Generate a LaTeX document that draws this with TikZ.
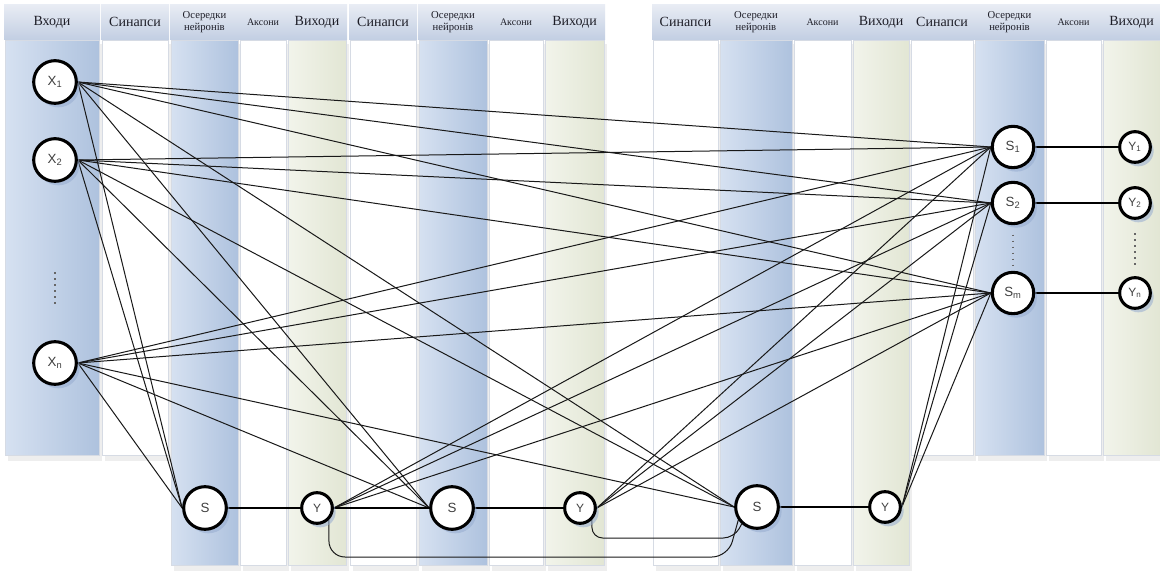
\documentclass[tikz,border=0pt]{standalone}
\usepackage{fontspec}
\setmainfont{Liberation Serif}
\newfontfamily\nodefont{Liberation Sans}
\usetikzlibrary{shadows}
\pgfdeclarelayer{bg}
\pgfdeclarelayer{lines}
\pgfsetlayers{bg,lines,main}
\definecolor{hdrtop}{RGB}{232,236,244}
\definecolor{hdrbot}{RGB}{194,206,226}
\definecolor{blueL}{RGB}{214,225,241}
\definecolor{blueR}{RGB}{174,194,222}
\definecolor{greenL}{RGB}{242,244,235}
\definecolor{greenR}{RGB}{226,230,212}
\definecolor{edgec}{RGB}{214,219,228}
\definecolor{shadowc}{RGB}{150,172,208}
\definecolor{hdrtext}{RGB}{30,30,40}
\newcommand\mycol[7]{%
  \fill[gray!13] (#1+3,44) rectangle (#2+3,#4+6);
  \path[#3] (#1,40) rectangle (#2,#4);
  \draw[edgec, line width=0.6pt] (#1,40) rectangle (#2,#4);
  \path[hdr] (#1-1,5) rectangle (#2+1,40);
  \node[#7] (#5) at ({(#1+#2)/2},22) {#6};
}
\begin{document}
\begin{tikzpicture}[x=0.75pt, y=-0.75pt,
  hdr/.style={top color=hdrtop, bottom color=hdrbot},
  cblue/.style={left color=blueL, right color=blueR},
  cgreen/.style={left color=greenL, right color=greenR},
  cwhite/.style={fill=white},
  hbig/.style={font=\fontsize{10.5}{12}\selectfont, text=hdrtext, inner sep=0pt},
  hmid/.style={font=\fontsize{8}{9}\selectfont, align=center, text=hdrtext, inner sep=0pt},
  hsm/.style={font=\fontsize{7.5}{8.5}\selectfont, text=hdrtext, inner sep=0pt},
  neuron/.style={circle, draw=black, line width=2.3pt, fill=white, inner sep=0pt,
     font=\nodefont\fontsize{10}{11}\selectfont, text=black!75,
     drop shadow={shadow xshift=2.5pt, shadow yshift=-3pt, fill=shadowc, opacity=0.55}},
  bigN/.style={neuron, minimum size=32pt},
  smallN/.style={neuron, minimum size=23pt, font=\nodefont\fontsize{9}{10}\selectfont},
  conn/.style={line width=0.75pt, black!90},
  axon/.style={line width=0.9pt, black},
  dotsline/.style={line width=1pt, black!60, dash pattern=on 1pt off 3.5pt}
]
\useasboundingbox (0,0) rectangle (1160,573);
\begin{pgfonlayer}{bg}
\fill[white] (0,0) rectangle (1160,573);
\mycol{5}{99}{cblue}{455}{h1}{Входи}{hbig}
\mycol{102}{168}{cwhite}{455}{h2}{Синапси}{hbig}
\mycol{171}{238}{cblue}{565}{h3}{Осередки\\нейронів}{hmid}
\mycol{240}{286}{cwhite}{565}{h4}{Аксони}{hsm}
\mycol{288}{346}{cgreen}{565}{h5}{Виходи}{hbig}
\mycol{350}{416}{cwhite}{565}{h6}{Синапси}{hbig}
\mycol{419}{487}{cblue}{565}{h7}{Осередки\\нейронів}{hmid}
\mycol{489}{543}{cwhite}{565}{h8}{Аксони}{hsm}
\mycol{545}{604}{cgreen}{565}{h9}{Виходи}{hbig}
\mycol{653}{718}{cwhite}{565}{h10}{Синапси}{hbig}
\mycol{720}{792}{cblue}{565}{h11}{Осередки\\нейронів}{hmid}
\mycol{794}{851}{cwhite}{565}{h12}{Аксони}{hsm}
\mycol{853}{909}{cgreen}{565}{h13}{Виходи}{hbig}
\mycol{911}{973}{cwhite}{455}{h14}{Синапси}{hbig}
\mycol{975}{1044}{cblue}{455}{h15}{Осередки\\нейронів}{hmid}
\mycol{1046}{1101}{cwhite}{455}{h16}{Аксони}{hsm}
\mycol{1103}{1160}{cgreen}{455}{h17}{Виходи}{hbig}
\end{pgfonlayer}

% neurons
\node[bigN] (X1) at (55,82) {X\textsubscript{1}};
\node[bigN] (X2) at (55,160) {X\textsubscript{2}};
\node[bigN] (Xn) at (55,363) {X\textsubscript{n}};
\node[bigN] (Sb1) at (205,508) {S};
\node[smallN] (Yb1) at (317,508) {Y};
\node[bigN] (Sb2) at (452,508) {S};
\node[smallN] (Yb2) at (580,508) {Y};
\node[bigN] (Sb3) at (757,507) {S};
\node[smallN] (Yb3) at (885,507) {Y};
\node[bigN, minimum size=31pt] (S1r) at (1013,147) {S\textsubscript{1}};
\node[bigN, minimum size=31pt] (S2r) at (1013,203) {S\textsubscript{2}};
\node[bigN, minimum size=31pt] (Smr) at (1013,293) {S\textsubscript{m}};
\node[smallN] (Y1r) at (1135,147) {Y\textsubscript{1}};
\node[smallN] (Y2r) at (1135,203) {Y\textsubscript{2}};
\node[smallN] (Ynr) at (1135,293) {Y\textsubscript{n}};

\begin{pgfonlayer}{lines}
\foreach \a in {X1,X2,Xn}{
  \foreach \b in {S1r,S2r,Smr,Sb1,Sb2,Sb3}{
    \draw[conn] (\a.east) -- (\b.west);
  }
}
\foreach \a in {Yb1,Yb2,Yb3}{
  \foreach \b in {S1r,S2r,Smr}{
    \draw[conn] (\a.east) -- (\b.west);
  }
}
\draw[axon] (Sb1) -- (Yb1);
\draw[axon] (Yb1) -- (Sb2);
\draw[axon, line width=1.9pt] (Sb2) -- (Yb2);
\draw[axon] (Sb3) -- (Yb3);
\draw[axon] (S1r) -- (Y1r);
\draw[axon] (S2r) -- (Y2r);
\draw[axon] (Smr) -- (Ynr);
\draw[conn, rounded corners=12pt] (Yb1.-45) |- (728,557) -- (Sb3.215);
\draw[conn, rounded corners=8pt] (Yb2.-45) |- (734,538) -- (Sb3.228);
\draw[dotsline, shorten <=67pt, shorten >=27pt] (X2.south) -- (Xn.north);
\draw[dotsline, shorten <=7pt, shorten >=3pt] (S2r.south) -- (Smr.north);
\draw[dotsline, shorten <=10pt, shorten >=7pt] (Y2r.south) -- (Ynr.north);
\end{pgfonlayer}
\end{tikzpicture}
\end{document}
